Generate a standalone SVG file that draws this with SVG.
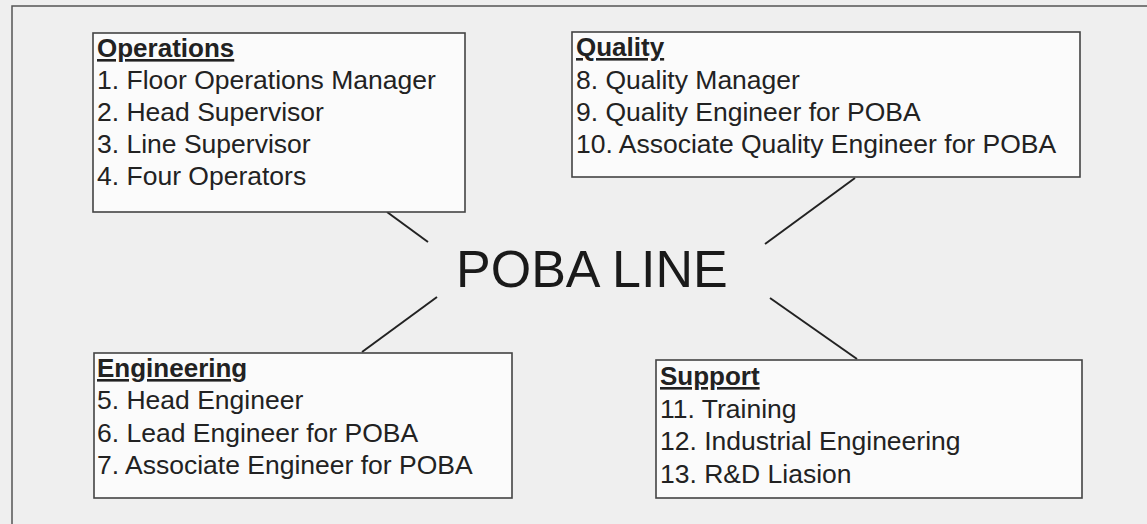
<svg xmlns="http://www.w3.org/2000/svg" width="1147" height="524" viewBox="0 0 1147 524">
<style>
.bg{fill:#efefef}
.frame{fill:none;stroke:#555;stroke-width:1.5}
.box{fill:#fbfbfb;stroke:#444;stroke-width:1.6}
.hd{font-family:"Liberation Sans",Arial,sans-serif;font-size:26px;font-weight:bold;fill:#222;text-decoration:underline}
.tx{font-family:"Liberation Sans",Arial,sans-serif;font-size:26.5px;fill:#222}
.title{font-family:"Liberation Sans",Arial,sans-serif;font-size:52px;fill:#1a1a1a}
.conn line{stroke:#222;stroke-width:2}
</style>
<rect class="bg" x="0" y="0" width="1147" height="524"/>
<rect class="frame" x="12" y="6" width="1200" height="600"/>
<g class="conn" id="connectors">
<line x1="387" y1="212" x2="428" y2="242"/>
<line x1="855" y1="178" x2="765" y2="244"/>
<line x1="437" y1="297" x2="362" y2="352"/>
<line x1="770" y1="298" x2="857" y2="359"/>
</g>
<g id="center">
<text class="title" x="456" y="287">POBA LINE</text>
</g>
<g id="operations">
<rect class="box" x="93" y="33" width="372" height="179"/>
<text class="hd" x="97" y="57">Operations</text>
<text class="tx" x="97" y="89">1. Floor Operations Manager</text>
<text class="tx" x="97" y="121">2. Head Supervisor</text>
<text class="tx" x="97" y="153">3. Line Supervisor</text>
<text class="tx" x="97" y="185">4. Four Operators</text>
</g>
<g id="quality">
<rect class="box" x="572" y="32" width="508" height="145"/>
<text class="hd" x="576" y="56">Quality</text>
<text class="tx" x="576" y="89">8. Quality Manager</text>
<text class="tx" x="576" y="121">9. Quality Engineer for POBA</text>
<text class="tx" x="576" y="153">10. Associate Quality Engineer for POBA</text>
</g>
<g id="engineering">
<rect class="box" x="94" y="353" width="418" height="145"/>
<text class="hd" x="97" y="377">Engineering</text>
<text class="tx" x="97" y="409">5. Head Engineer</text>
<text class="tx" x="97" y="442">6. Lead Engineer for POBA</text>
<text class="tx" x="97" y="474">7. Associate Engineer for POBA</text>
</g>
<g id="support">
<rect class="box" x="656" y="360" width="426" height="138"/>
<text class="hd" x="660" y="385">Support</text>
<text class="tx" x="660" y="418">11. Training</text>
<text class="tx" x="660" y="450">12. Industrial Engineering</text>
<text class="tx" x="660" y="483">13. R&amp;D Liasion</text>
</g>
</svg>
